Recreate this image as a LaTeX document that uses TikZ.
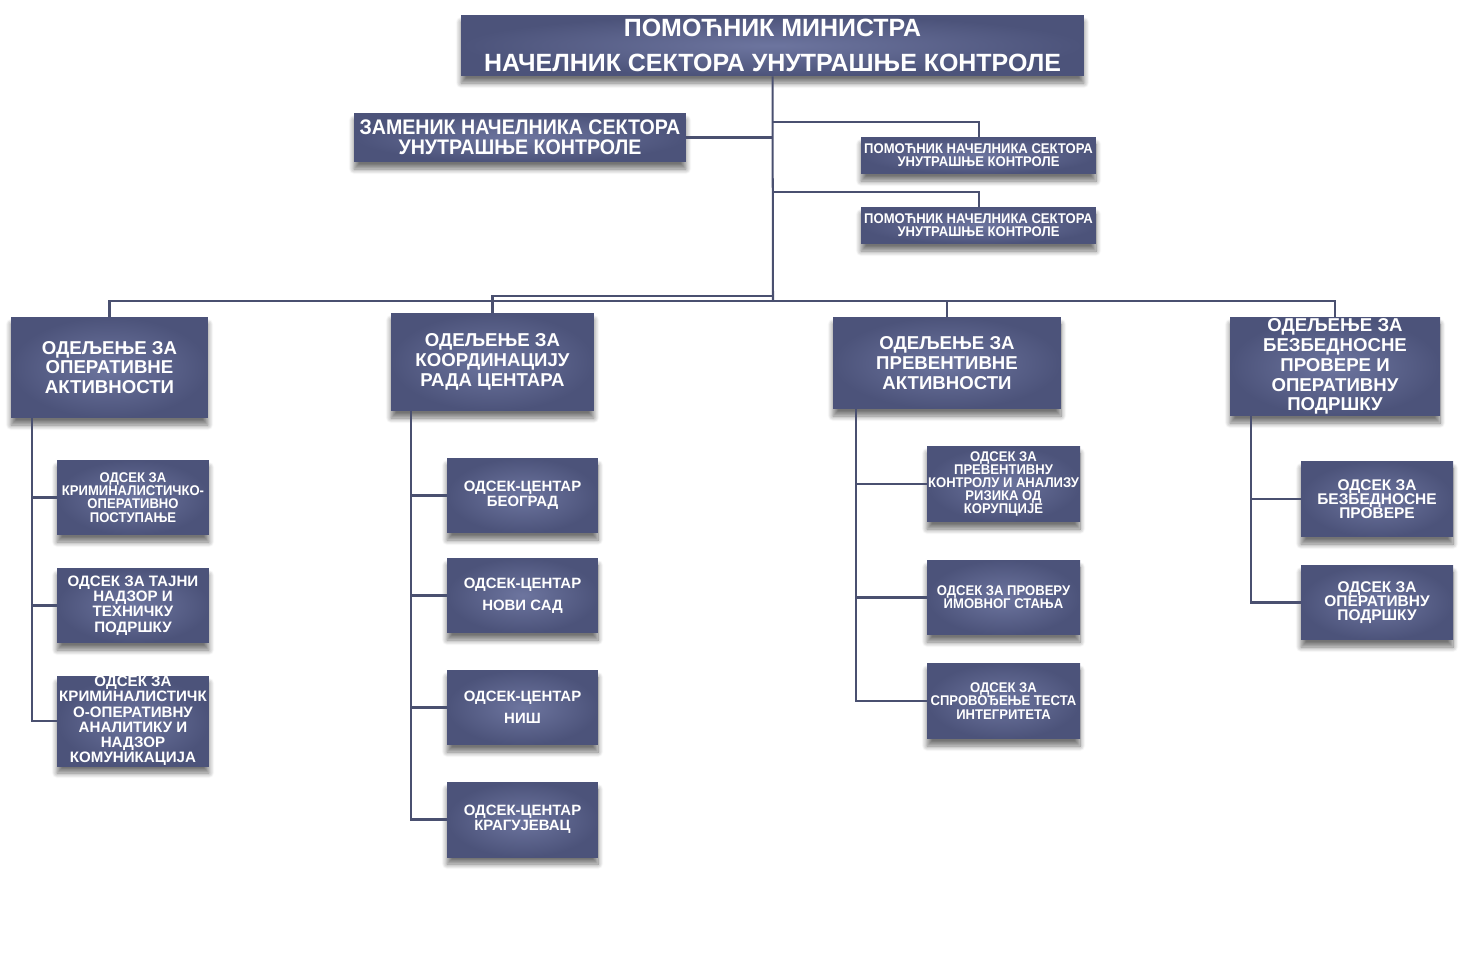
\documentclass[tikz,border=0pt]{standalone}
\usepackage{fontspec}
\setmainfont{Liberation Sans}
\newfontfamily\narrowfont[FakeStretch=0.86]{Liberation Sans}
\newfontfamily\semifont[FakeStretch=0.93]{Liberation Sans}
\usepackage{xcolor}
\usetikzlibrary{shadows.blur}
\definecolor{boxinner}{HTML}{6D759F}
\definecolor{boxouter}{HTML}{4C537A}
\definecolor{linkcol}{HTML}{4A5070}

\begin{document}
\begin{tikzpicture}[x=0.02cm,y=-0.02cm]
\tikzstyle{unit}=[rectangle, inner sep=0pt, align=center, text=white, shading=radial, inner color=boxinner, outer color=boxouter, blur shadow={shadow xshift=0pt, shadow yshift=-4pt, shadow blur radius=3pt, shadow blur steps=8, shadow opacity=55}]
\tikzstyle{link}=[draw=linkcol, line width=1.15pt]
\tikzstyle{headtxt}=[font=\bfseries\fontsize{14.2}{19.8}\selectfont]
\tikzstyle{deptxt}=[font=\semifont\bfseries\fontsize{12}{11.3}\selectfont]
\tikzstyle{asstxt}=[font=\semifont\bfseries\fontsize{8}{7.4}\selectfont]
\tikzstyle{odtxt}=[font=\bfseries\fontsize{10.6}{11.3}\selectfont]
\tikzstyle{smalltxt}=[font=\bfseries\fontsize{8.6}{8.7}\selectfont]
\tikzstyle{narrowtxt}=[font=\semifont\bfseries\fontsize{8}{7.5}\selectfont]
\tikzstyle{spacedtxt}=[font=\bfseries\fontsize{8.8}{7.9}\selectfont]
\useasboundingbox (0,0) rectangle (1483,969);
% top of the sector
\node[unit, headtxt, minimum width=12.46cm, minimum height=1.22cm] (head) at (772.5,45.5) {ПОМОЋНИК МИНИСТРА\\НАЧЕЛНИК СЕКТОРА УНУТРАШЊЕ КОНТРОЛЕ};
\node[unit, deptxt, minimum width=6.64cm, minimum height=0.98cm] (dep) at (520,137.5) {ЗАМЕНИК НАЧЕЛНИКА СЕКТОРА\\УНУТРАШЊЕ КОНТРОЛЕ};
\node[unit, asstxt, minimum width=4.70cm, minimum height=0.74cm] (as1) at (978.5,155.5) {ПОМОЋНИК НАЧЕЛНИКА СЕКТОРА\\УНУТРАШЊЕ КОНТРОЛЕ};
\node[unit, asstxt, minimum width=4.70cm, minimum height=0.74cm] (as2) at (978.5,225.5) {ПОМОЋНИК НАЧЕЛНИКА СЕКТОРА\\УНУТРАШЊЕ КОНТРОЛЕ};
% departments
\node[unit, odtxt, minimum width=3.94cm, minimum height=2.02cm] (d1) at (109.5,367.5) {ОДЕЉЕЊЕ ЗА\\ОПЕРАТИВНЕ\\АКТИВНОСТИ};
\node[unit, odtxt, minimum width=4.06cm, minimum height=1.96cm] (d2) at (492.5,362) {ОДЕЉЕЊЕ ЗА\\КООРДИНАЦИЈУ\\РАДА ЦЕНТАРА};
\node[unit, odtxt, minimum width=4.56cm, minimum height=1.84cm] (d3) at (947,363) {ОДЕЉЕЊЕ ЗА\\ПРЕВЕНТИВНЕ\\АКТИВНОСТИ};
\node[unit, odtxt, minimum width=4.20cm, minimum height=1.98cm] (d4) at (1335,366.5) {ОДЕЉЕЊЕ ЗА\\БЕЗБЕДНОСНЕ\\ПРОВЕРЕ И\\ОПЕРАТИВНУ\\ПОДРШКУ};
% sections, first department
\node[unit, narrowtxt, minimum width=3.04cm, minimum height=1.50cm] (o11) at (133,497.5) {ОДСЕК ЗА\\КРИМИНАЛИСТИЧКО-\\ОПЕРАТИВНО\\ПОСТУПАЊЕ};
\node[unit, smalltxt, minimum width=3.04cm, minimum height=1.50cm] (o12) at (133,605.5) {ОДСЕК ЗА ТАЈНИ\\НАДЗОР И\\ТЕХНИЧКУ\\ПОДРШКУ};
\node[unit, smalltxt, minimum width=3.04cm, minimum height=1.76cm] (o13) at (133,721) {ОДСЕК ЗА\\КРИМИНАЛИСТИЧК\\О-ОПЕРАТИВНУ\\АНАЛИТИКУ И\\НАДЗОР\\КОМУНИКАЦИЈА};
% sections, second department
\node[unit, font=\bfseries\fontsize{8.5}{8.5}\selectfont, minimum width=3.02cm, minimum height=1.50cm] (o21) at (522.5,495.5) {ОДСЕК-ЦЕНТАР\\БЕОГРАД};
\node[unit, font=\bfseries\fontsize{8.5}{12.5}\selectfont, minimum width=3.02cm, minimum height=1.50cm] (o22) at (522.5,595.5) {ОДСЕК-ЦЕНТАР\\НОВИ САД};
\node[unit, font=\bfseries\fontsize{8.5}{12.5}\selectfont, minimum width=3.02cm, minimum height=1.50cm] (o23) at (522.5,707.5) {ОДСЕК-ЦЕНТАР\\НИШ};
\node[unit, font=\bfseries\fontsize{8.5}{8.5}\selectfont, minimum width=3.02cm, minimum height=1.50cm] (o24) at (522.5,819.5) {ОДСЕК-ЦЕНТАР\\КРАГУЈЕВАЦ};
% sections, third department
\node[unit, narrowtxt, minimum width=3.06cm, minimum height=1.52cm] (o31) at (1003.5,484) {ОДСЕК ЗА\\ПРЕВЕНТИВНУ\\КОНТРОЛУ И АНАЛИЗУ\\РИЗИКА ОД\\КОРУПЦИЈЕ};
\node[unit, narrowtxt, minimum width=3.06cm, minimum height=1.50cm] (o32) at (1003.5,597.5) {ОДСЕК ЗА ПРОВЕРУ\\ИМОВНОГ СТАЊА};
\node[unit, narrowtxt, minimum width=3.06cm, minimum height=1.52cm] (o33) at (1003.5,701) {ОДСЕК ЗА\\СПРОВОЂЕЊЕ ТЕСТА\\ИНТЕГРИТЕТА};
% sections, fourth department
\node[unit, spacedtxt, minimum width=3.04cm, minimum height=1.52cm] (o41) at (1377,499) {ОДСЕК ЗА\\БЕЗБЕДНОСНЕ\\ПРОВЕРЕ};
\node[unit, spacedtxt, minimum width=3.04cm, minimum height=1.50cm] (o42) at (1377,602.5) {ОДСЕК ЗА\\ОПЕРАТИВНУ\\ПОДРШКУ};
% connectors
\coordinate (bus) at (773,301);
\coordinate (bus2) at (773,296);
\coordinate (j1) at (773,122);
\coordinate (j2) at (773,192);
\draw[link] (head.south) -- (bus);
\draw[link] (dep.east) -- (dep.east -| head.south);
\draw[link] (j1) -| (as1.north);
\draw[link] (j2) -| (as2.north);
\draw[link] (d1.north) |- (bus) -| (d4.north);
\draw[link] (d3.north) |- (bus);
\draw[link] (d2.north) |- (bus2);
\coordinate (s1) at (32,0);
\coordinate (s2) at (411,0);
\coordinate (s3) at (856,0);
\coordinate (s4) at (1251,0);
\foreach \k in {o11,o12,o13} \draw[link] (d1.south -| s1) |- (\k.west);
\foreach \k in {o21,o22,o23,o24} \draw[link] (d2.south -| s2) |- (\k.west);
\foreach \k in {o31,o32,o33} \draw[link] (d3.south -| s3) |- (\k.west);
\foreach \k in {o41,o42} \draw[link] (d4.south -| s4) |- (\k.west);
\end{tikzpicture}
\end{document}
